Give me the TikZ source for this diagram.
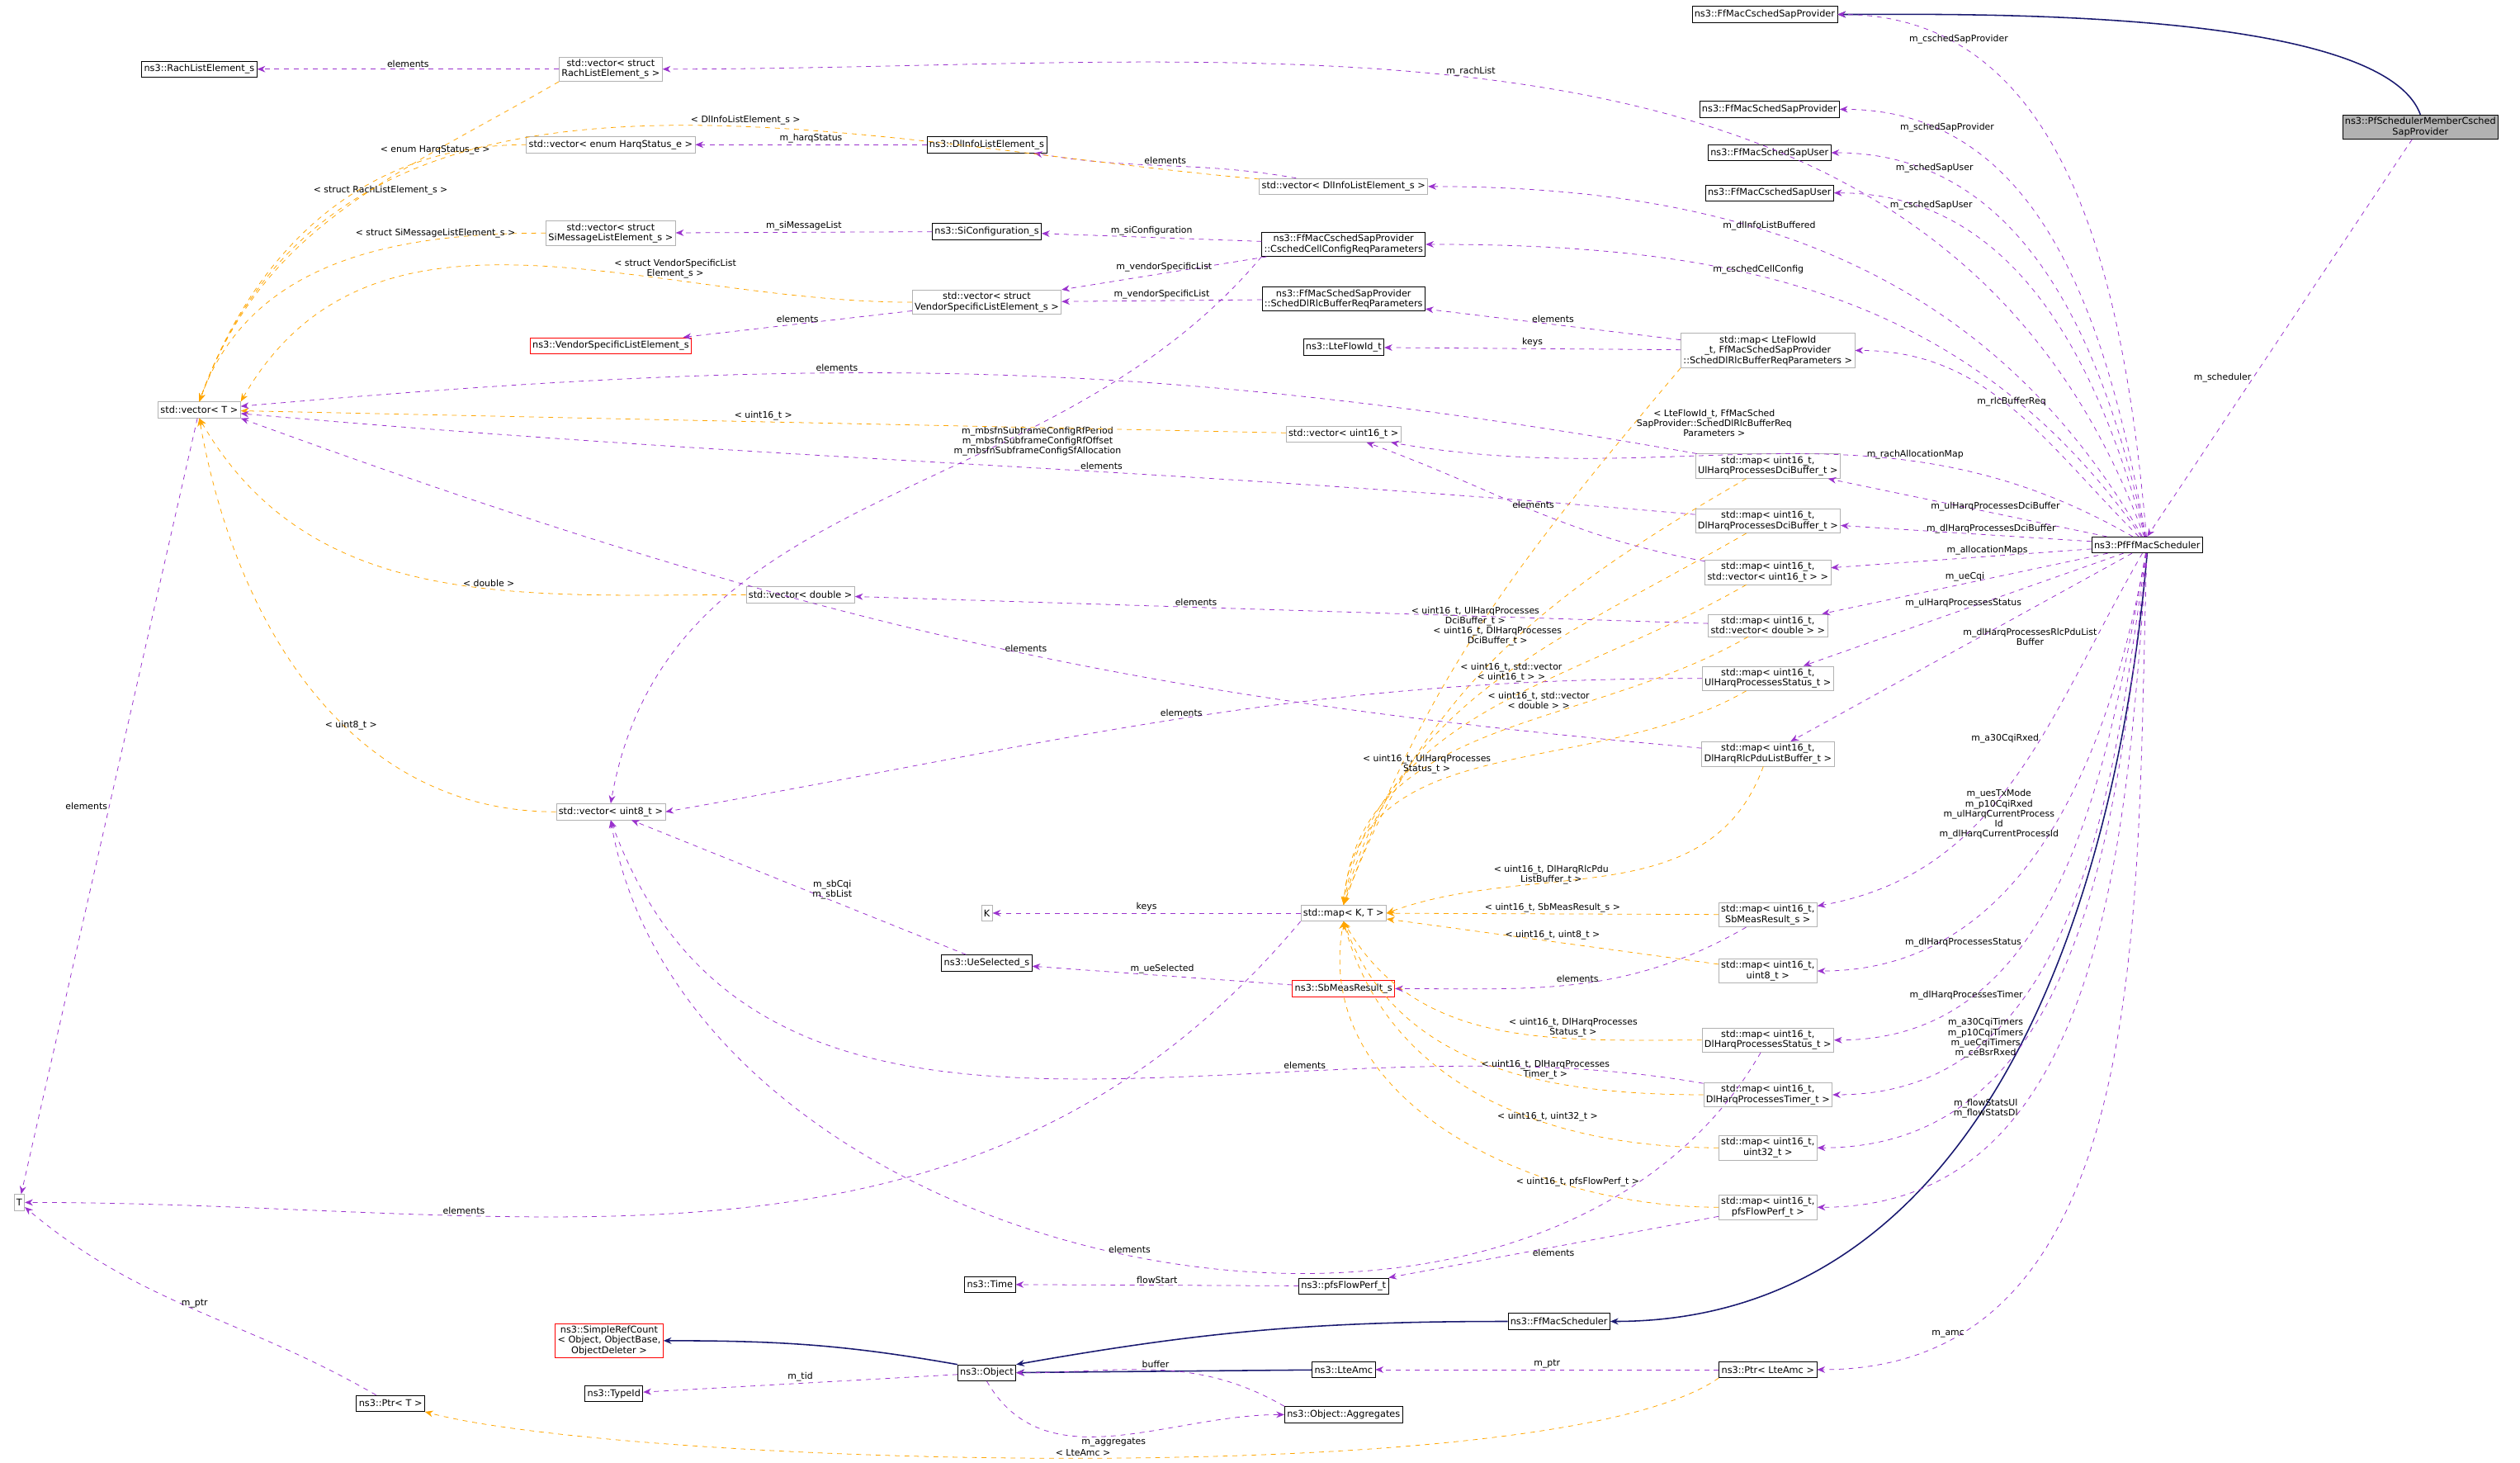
\documentclass[tikz,border=0pt]{standalone}
\usepackage{fontspec}
\setmainfont{DejaVu Sans}
\usetikzlibrary{arrows.meta}

\definecolor{memcol}{RGB}{154,50,205}
\definecolor{tplcol}{RGB}{255,165,0}
\definecolor{inhcol}{RGB}{25,25,112}

\tikzset{
  cls/.style={draw=black, fill=white, inner sep=1.5pt, align=center, font=\fontsize{5.8}{6.4}\selectfont, minimum height=10pt},
  ext/.style={cls, draw=gray!60},
  bad/.style={cls, draw=red},
  cur/.style={cls, fill=gray!60},
  mem/.style={draw=memcol, dashed, -{Stealth[length=5pt,width=4pt]}},
  tpl/.style={draw=tplcol, dashed, -{Stealth[length=5pt,width=4pt]}},
  inh/.style={draw=inhcol, thick, -{Stealth[length=5pt,width=4pt]}},
  lbl/.style={font=\fontsize{5.6}{6.2}\selectfont, align=center, inner sep=1pt, text=black}
}

\begin{document}
\begin{tikzpicture}[x=1pt, y=-1pt]
\useasboundingbox (0,0) rectangle (1568,910);

% classes
\node[cur] (pfcs) at (1506,79) {ns3::PfSchedulerMemberCsched\\SapProvider};
\node[cls] (fcsp) at (1098,9) {ns3::FfMacCschedSapProvider};
\node[cls] (fssp) at (1101,68) {ns3::FfMacSchedSapProvider};
\node[cls] (fssu) at (1101,95) {ns3::FfMacSchedSapUser};
\node[cls] (fcsu) at (1101,120) {ns3::FfMacCschedSapUser};
\node[cls] (pfff) at (1336,339) {ns3::PfFfMacScheduler};
\node[cls] (ffms) at (970,822) {ns3::FfMacScheduler};
\node[cls] (pamc) at (1100,852) {ns3::Ptr< LteAmc >};
\node[cls] (lamc) at (836,852) {ns3::LteAmc};
\node[cls] (obj) at (614,854) {ns3::Object};
\node[cls] (aggr) at (836,880) {ns3::Object::Aggregates};
\node[bad] (srct) at (379,834) {ns3::SimpleRefCount\\< Object, ObjectBase,\\ObjectDeleter >};
\node[cls] (tyid) at (382,867) {ns3::TypeId};
\node[cls] (ptrt) at (243,873) {ns3::Ptr< T >};
\node[ext] (tt) at (12,748) {T};
\node[cls] (time) at (616,799) {ns3::Time};
\node[cls] (pfsf) at (836,800) {ns3::pfsFlowPerf\_t};
\node[ext] (vect) at (124,255) {std::vector< T >};
\node[cls] (rach) at (124,43) {ns3::RachListElement\_s};
\node[ext] (vrach) at (380,43) {std::vector< struct\\RachListElement\_s >};
\node[ext] (vharq) at (380,90) {std::vector< enum HarqStatus\_e >};
\node[cls] (dlin) at (614,90) {ns3::DlInfoListElement\_s};
\node[ext] (vdlin) at (836,116) {std::vector< DlInfoListElement\_s >};
\node[cls] (sicf) at (614,144) {ns3::SiConfiguration\_s};
\node[ext] (vsim) at (380,145) {std::vector< struct\\SiMessageListElement\_s >};
\node[cls] (ccrp) at (836,152) {ns3::FfMacCschedSapProvider\\::CschedCellConfigReqParameters};
\node[ext] (vven) at (614,188) {std::vector< struct\\VendorSpecificListElement\_s >};
\node[bad] (vend) at (380,215) {ns3::VendorSpecificListElement\_s};
\node[cls] (sdrp) at (836,186) {ns3::FfMacSchedSapProvider\\::SchedDlRlcBufferReqParameters};
\node[cls] (lfid) at (836,216) {ns3::LteFlowId\_t};
\node[ext] (mlfid) at (1100,218) {std::map< LteFlowId\\\_t, FfMacSchedSapProvider\\::SchedDlRlcBufferReqParameters >};
\node[ext] (vu16) at (836,270) {std::vector< uint16\_t >};
\node[ext] (mudci) at (1100,290) {std::map< uint16\_t,\\UlHarqProcessesDciBuffer\_t >};
\node[ext] (mddci) at (1100,324) {std::map< uint16\_t,\\DlHarqProcessesDciBuffer\_t >};
\node[ext] (mvu16) at (1100,356) {std::map< uint16\_t,\\std::vector< uint16\_t > >};
\node[ext] (mvdbl) at (1100,389) {std::map< uint16\_t,\\std::vector< double > >};
\node[ext] (vdbl) at (498,370) {std::vector< double >};
\node[ext] (musts) at (1100,422) {std::map< uint16\_t,\\UlHarqProcessesStatus\_t >};
\node[ext] (mdrlc) at (1100,469) {std::map< uint16\_t,\\DlHarqRlcPduListBuffer\_t >};
\node[ext] (vu8) at (380,505) {std::vector< uint8\_t >};
\node[ext] (mkt) at (836,568) {std::map< K, T >};
\node[ext] (kk) at (614,568) {K};
\node[cls] (uesl) at (614,599) {ns3::UeSelected\_s};
\node[bad] (sbmr) at (836,615) {ns3::SbMeasResult\_s};
\node[ext] (msbm) at (1100,569) {std::map< uint16\_t,\\SbMeasResult\_s >};
\node[ext] (mu8) at (1100,604) {std::map< uint16\_t,\\uint8\_t >};
\node[ext] (mdsts) at (1100,647) {std::map< uint16\_t,\\DlHarqProcessesStatus\_t >};
\node[ext] (mdtim) at (1100,681) {std::map< uint16\_t,\\DlHarqProcessesTimer\_t >};
\node[ext] (mu32) at (1100,714) {std::map< uint16\_t,\\uint32\_t >};
\node[ext] (mpfs) at (1100,751) {std::map< uint16\_t,\\pfsFlowPerf\_t >};

% inheritance
\draw[inh] (pfcs.north) to[out=110,in=0,looseness=0.5] (fcsp);
\draw[inh] (pfff.south) to[out=-95,in=0] (ffms);
\draw[inh] (lamc) -- (obj);
\draw[inh] (ffms.west) to[out=180,in=10] (obj.north east);
\draw[inh] (obj.north west) to[out=170,in=0] (srct);

% members of the scheduler
\draw[mem] (pfcs) -- node[lbl, pos=0.6, left] {m\_scheduler} (pfff.north);
\draw[mem] (pfff) to[out=95,in=0] node[lbl, pos=0.8, above] {m\_cschedSapProvider} (fcsp);
\draw[mem] (pfff) to[out=100,in=0] node[lbl, pos=0.8, above] {m\_schedSapProvider} (fssp);
\draw[mem] (pfff) to[out=102,in=0] node[lbl, pos=0.8, above] {m\_schedSapUser} (fssu);
\draw[mem] (pfff) to[out=105,in=0] node[lbl, pos=0.8, above] {m\_cschedSapUser} (fcsu);
\draw[mem] (pfff) to[out=110,in=0] node[lbl, pos=0.55, above] {m\_rachList} (vrach);
\draw[mem] (pfff) to[out=120,in=0] node[lbl, pos=0.6, above] {m\_dlInfoListBuffered} (vdlin);
\draw[mem] (pfff) to[out=125,in=0] node[lbl, pos=0.6, above] {m\_cschedCellConfig} (ccrp);
\draw[mem] (pfff) to[out=135,in=0] node[lbl, pos=0.5, above] {m\_rlcBufferReq} (mlfid);
\draw[mem] (pfff) to[out=150,in=-10] node[lbl, pos=0.3, above] {m\_rachAllocationMap} (vu16);
\draw[mem] (pfff) -- node[lbl, pos=0.4, above] {m\_ulHarqProcessesDciBuffer} (mudci);
\draw[mem] (pfff) -- node[lbl, pos=0.4, above] {m\_dlHarqProcessesDciBuffer} (mddci);
\draw[mem] (pfff) -- node[lbl, pos=0.4, above] {m\_allocationMaps} (mvu16);
\draw[mem] (pfff) -- node[lbl, pos=0.5, above] {m\_ueCqi} (mvdbl);
\draw[mem] (pfff) -- node[lbl, pos=0.5, above] {m\_ulHarqProcessesStatus} (musts);
\draw[mem] (pfff) -- node[lbl, pos=0.5, above right] {m\_dlHarqProcessesRlcPduList\\Buffer} (mdrlc);
\draw[mem] (pfff) to[out=-120,in=10] node[lbl, pos=0.4, left] {m\_a30CqiRxed} (msbm);
\draw[mem] (pfff) to[out=-100,in=0] node[lbl, pos=0.45, left] {m\_uesTxMode\\m\_p10CqiRxed\\m\_ulHarqCurrentProcess\\Id\\m\_dlHarqCurrentProcessId} (mu8);
\draw[mem] (pfff) to[out=-100,in=0] node[lbl, pos=0.62, left] {m\_dlHarqProcessesStatus} (mdsts);
\draw[mem] (pfff) to[out=-98,in=0] node[lbl, pos=0.64, left] {m\_dlHarqProcessesTimer} (mdtim);
\draw[mem] (pfff) to[out=-96,in=0] node[lbl, pos=0.64, left] {m\_a30CqiTimers\\m\_p10CqiTimers\\m\_ueCqiTimers\\m\_ceBsrRxed} (mu32);
\draw[mem] (pfff) to[out=-94,in=0] node[lbl, pos=0.68, left] {m\_flowStatsUl\\m\_flowStatsDl} (mpfs);
\draw[mem] (pfff) to[out=-92,in=0] node[lbl, pos=0.85, above] {m\_amc} (pamc);

% object side
\draw[mem] (pamc) -- node[lbl, above] {m\_ptr} (lamc);
\draw[mem] (obj) -- node[lbl, above] {m\_tid} (tyid);
\draw[mem] (obj.south) to[out=-60,in=180] node[lbl, below] {m\_aggregates} (aggr);
\draw[mem] (aggr.north west) to[out=150,in=0] node[lbl, above] {buffer} (obj.east);
\draw[tpl] (pamc.south west) to[out=-145,in=-15,looseness=0.4] node[lbl, pos=0.5, above] {< LteAmc >} (ptrt.south east);
\draw[mem] (ptrt) to[out=150,in=-40] node[lbl, above] {m\_ptr} (tt);
\draw[mem] (vect) -- node[lbl, left, pos=0.5] {elements} (tt);
\draw[mem] (pfsf) -- node[lbl, above] {flowStart} (time);
\draw[mem] (mpfs) -- node[lbl, below] {elements} (pfsf);

% vectors
\draw[mem] (vrach) -- node[lbl, above] {elements} (rach);
\draw[tpl] (vrach.south west) to[out=-150,in=70] node[lbl, pos=0.4, below] {< struct RachListElement\_s >} (vect.north);
\draw[tpl] (vharq) to[out=180,in=70] node[lbl, pos=0.2, above] {< enum HarqStatus\_e >} (vect.north);
\draw[mem] (dlin) -- node[lbl, above] {m\_harqStatus} (vharq);
\draw[mem] (vdlin) to[out=170,in=-10] node[lbl, above] {elements} (dlin);
\draw[tpl] (vdlin) to[out=175,in=70] node[lbl, pos=0.4, above] {< DlInfoListElement\_s >} (vect.north);
\draw[tpl] (vsim) to[out=180,in=70] node[lbl, pos=0.25, above] {< struct SiMessageListElement\_s >} (vect.north);
\draw[mem] (sicf) -- node[lbl, above] {m\_siMessageList} (vsim);
\draw[mem] (ccrp) -- node[lbl, above] {m\_siConfiguration} (sicf);
\draw[mem] (ccrp) -- node[lbl, above] {m\_vendorSpecificList} (vven.north east);
\draw[mem] (sdrp) -- node[lbl, above] {m\_vendorSpecificList} (vven);
\draw[mem] (vven) -- node[lbl, above] {elements} (vend);
\draw[tpl] (vven) to[out=180,in=60] node[lbl, pos=0.3, above] {< struct VendorSpecificList\\Element\_s >} (vect.north east);
\draw[mem] (ccrp.south west) to[out=-130,in=80] node[lbl, pos=0.3, below] {m\_mbsfnSubframeConfigRfPeriod\\m\_mbsfnSubframeConfigRfOffset\\m\_mbsfnSubframeConfigSfAllocation} (vu8.north);
\draw[tpl] (vu16) -- node[lbl, pos=0.5, above] {< uint16\_t >} (vect);
\draw[tpl] (vdbl) to[out=180,in=-60] node[lbl, pos=0.4, above] {< double >} (vect.south);
\draw[tpl] (vu8) to[out=180,in=-80] node[lbl, pos=0.4, above] {< uint8\_t >} (vect.south);

% maps
\draw[mem] (mlfid) -- node[lbl, above] {keys} (lfid);
\draw[mem] (mlfid) -- node[lbl, above] {elements} (sdrp);
\draw[tpl] (mlfid.south west) to[out=-130,in=70] node[lbl, pos=0.1, right] {< LteFlowId\_t, FfMacSched\\SapProvider::SchedDlRlcBufferReq\\Parameters >} (mkt.north);
\draw[mem] (mudci) to[out=170,in=5] node[lbl, pos=0.6, above] {elements} (vect);
\draw[mem] (mddci) to[out=175,in=-5] node[lbl, pos=0.4, above] {elements} (vect);
\draw[tpl] (mudci) to[out=-150,in=70] node[lbl, pos=0.4, left] {< uint16\_t, UlHarqProcesses\\DciBuffer\_t >} (mkt.north);
\draw[tpl] (mddci) to[out=-150,in=75] node[lbl, pos=0.35, left] {< uint16\_t, DlHarqProcesses\\DciBuffer\_t >} (mkt.north);
\draw[mem] (mvu16) to[out=170,in=-20] node[lbl, above] {elements} (vu16);
\draw[tpl] (mvu16) to[out=-150,in=80] node[lbl, pos=0.35, left] {< uint16\_t, std::vector\\< uint16\_t > >} (mkt.north);
\draw[mem] (mvdbl) -- node[lbl, pos=0.6, above] {elements} (vdbl);
\draw[tpl] (mvdbl) to[out=-150,in=85] node[lbl, pos=0.3, left] {< uint16\_t, std::vector\\< double > >} (mkt.north);
\draw[mem] (musts) to[out=180,in=10] node[lbl, pos=0.5, above] {elements} (vu8.east);
\draw[tpl] (musts) to[out=-150,in=85] node[lbl, pos=0.5, left] {< uint16\_t, UlHarqProcesses\\Status\_t >} (mkt.north);
\draw[mem] (mdrlc) to[out=175,in=-20] node[lbl, pos=0.45, above] {elements} (vect.south east);
\draw[tpl] (mdrlc) to[out=-110,in=20] node[lbl, pos=0.5, left] {< uint16\_t, DlHarqRlcPdu\\ListBuffer\_t >} (mkt.east);
\draw[mem] (mkt) -- node[lbl, above] {keys} (kk);
\draw[mem] (mkt.south west) to[out=-130,in=0] node[lbl, pos=0.7, above] {elements} (tt.east);
\draw[mem] (uesl) -- node[lbl, pos=0.4, above] {m\_sbCqi\\m\_sbList} (vu8);
\draw[mem] (sbmr) -- node[lbl, above] {m\_ueSelected} (uesl);
\draw[mem] (msbm) to[out=-150,in=0] node[lbl, pos=0.5, above] {elements} (sbmr);
\draw[tpl] (msbm) -- node[lbl, above] {< uint16\_t, SbMeasResult\_s >} (mkt);
\draw[tpl] (mu8) -- node[lbl, above] {< uint16\_t, uint8\_t >} (mkt);
\draw[mem] (mdtim) to[out=170,in=-70] node[lbl, pos=0.3, above] {elements} (vu8.south);
\draw[mem] (mdsts) to[out=-120,in=-80] node[lbl, pos=0.5, above] {elements} (vu8.south);
\draw[tpl] (mdsts) to[out=180,in=-60] node[lbl, pos=0.3, above] {< uint16\_t, DlHarqProcesses\\Status\_t >} (mkt.south);
\draw[tpl] (mdtim) to[out=180,in=-70] node[lbl, pos=0.35, above] {< uint16\_t, DlHarqProcesses\\Timer\_t >} (mkt.south);
\draw[tpl] (mu32) to[out=180,in=-75] node[lbl, pos=0.35, above] {< uint16\_t, uint32\_t >} (mkt.south);
\draw[tpl] (mpfs) to[out=180,in=-100] node[lbl, pos=0.25, above] {< uint16\_t, pfsFlowPerf\_t >} (mkt.south);
\end{tikzpicture}
\end{document}
